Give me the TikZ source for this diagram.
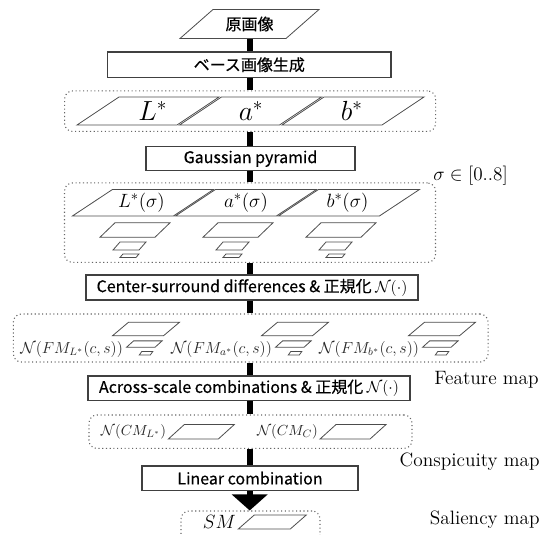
\documentclass[tikz,border=0pt]{standalone}
\usepackage{fontspec}
\newfontfamily\jp{Noto Sans CJK JP}[FakeBold=0.4]
\usetikzlibrary{arrows.meta}
\newcommand\pgram[5]{%
  \draw[pg] ({#1-#3/2-#5/2},{#2+#4/2}) -- ({#1+#3/2-#5/2},{#2+#4/2}) --
            ({#1+#3/2+#5/2},{#2-#4/2}) -- ({#1-#3/2+#5/2},{#2-#4/2}) -- cycle;}
\begin{document}
\begin{tikzpicture}[x=0.75pt,y=-0.75pt,
  box/.style={draw=black!75, line width=1.1pt, fill=white, inner sep=0pt,
              font=\jp\fontsize{12}{14}\selectfont},
  grp/.style={draw=black!60, dotted, line width=0.8pt, rounded corners=6pt, inner sep=0pt},
  pg/.style={draw=black!70, line width=0.6pt},
  bar/.style={line width=4.5pt, black},
  lbl/.style={font=\fontsize{14.5}{16}\selectfont, anchor=east, inner sep=0pt},
  fmlbl/.style={font=\fontsize{11.6}{13}\selectfont, anchor=east, inner sep=0pt, text=black!85},
  cmlbl/.style={font=\fontsize{10.8}{12}\selectfont, anchor=east, inner sep=0pt, text=black!85},
  txt/.style={inner sep=0pt}]
\useasboundingbox (0,0) rectangle (547,535);
\clip (0,0) rectangle (547,535);
\coordinate (spine) at (249.7,0);

% groups
\node[grp, minimum width=278.25pt, minimum height=30.4pt] (g1) at (250.1,111.2) {};
\node[grp, minimum width=278.25pt, minimum height=59.6pt] (g2) at (250,222.7) {};
\node[grp, minimum width=356pt, minimum height=36pt] (g3) at (250.7,338) {};
\node[grp, minimum width=242.25pt, minimum height=25.1pt] (g4) at (250.5,431.7) {};
\node[grp, minimum width=104.25pt, minimum height=25.5pt] (g5) at (250.5,528) {};

% original image
\node[txt, minimum width=79.5pt, minimum height=21.75pt, font=\jp\fontsize{12}{14}\selectfont] (orig) at (249.5,24) {原画像};
\pgram{249.5}{24}{106}{29}{33}

% boxes
\node[box, minimum width=212.6pt, minimum height=19.1pt] (base) at (249.3,64.7) {ベース画像生成};
\node[box, minimum width=156.75pt, minimum height=18pt] (gauss) at (250.5,158.6) {Gaussian pyramid};
\node[box, minimum width=249pt, minimum height=18.75pt] (cs) at (252,287.5) {Center-surround differences \& 正規化 $\mathcal{N}(\cdot)$};
\node[box, minimum width=241.5pt, minimum height=18.4pt] (across) at (249,388.2) {Across-scale combinations \& 正規化 $\mathcal{N}(\cdot)$};
\node[box, minimum width=162pt, minimum height=18.4pt] (lin) at (250,478.2) {Linear combination};

% connectors
\draw[bar] (spine |- orig.south) -- (spine |- base.north);
\draw[bar] (spine |- base.south) -- (spine |- g1.north);
\draw[bar] (spine |- g1.south) -- (spine |- gauss.north);
\draw[bar] (spine |- gauss.south) -- (spine |- g2.north);
\draw[bar] (spine |- g2.south) -- (spine |- cs.north);
\draw[bar] (spine |- cs.south) -- (spine |- g3.north);
\draw[bar] (spine |- g3.south) -- (spine |- across.north);
\draw[bar] (spine |- across.south) -- (spine |- g4.north);
\draw[bar] (spine |- g4.south) -- (spine |- lin.north);
\draw[bar, -{Triangle[width=26.25pt,length=12pt]}] (spine |- lin.south) -- (spine |- g5.north);

% L* a* b*
\pgram{148}{111}{100}{28}{42}
\pgram{250.5}{111}{100}{28}{42}
\pgram{353}{111}{100}{28}{42}
\node[txt, font=\fontsize{22}{24}\selectfont] (lab1) at (152.8,111) {$L^*$};
\node[txt, font=\fontsize{22}{24}\selectfont] (lab2) at (251,111) {$a^*$};
\node[txt, font=\fontsize{22}{24}\selectfont] (lab3) at (351.7,111) {$b^*$};

% pyramid
\node[anchor=west, inner sep=0pt, font=\fontsize{14.5}{16}\selectfont] (sig) at (433,176) {$\sigma \in [0..8]$};
\foreach \cx in {143,246,349}{
  \pgram{\cx}{202.7}{101}{26.5}{40}
  \pgram{\cx-8}{230}{55}{14.5}{15}
  \pgram{\cx-13.5}{246}{26}{8}{7}
  \pgram{\cx-13.5}{255.7}{16}{3.5}{3}
}
\node[txt, font=\fontsize{15.5}{17}\selectfont] (ps1) at (141.4,203) {$L^*(\sigma)$};
\node[txt, font=\fontsize{15.5}{17}\selectfont] (ps2) at (246,203) {$a^*(\sigma)$};
\node[txt, font=\fontsize{15.5}{17}\selectfont] (ps3) at (347.5,203) {$b^*(\sigma)$};

% feature maps
\foreach \cx in {146,295,442}{
  \pgram{\cx}{329}{51}{13.5}{16}
  \pgram{\cx-1.6}{344}{28.5}{6.3}{7}
  \pgram{\cx}{353.3}{11}{3.5}{2.5}
}
\node[fmlbl] (fm1) at (123.2,349) {$\mathcal{N}(FM_{L^*}(c,s))$};
\node[fmlbl] (fm2) at (272.2,349) {$\mathcal{N}(FM_{a^*}(c,s))$};
\node[fmlbl] (fm3) at (419.2,349) {$\mathcal{N}(FM_{b^*}(c,s))$};
\node[lbl] (fmap) at (539,380) {Feature map};

% conspicuity maps
\pgram{201.3}{431.8}{50}{14.5}{16}
\pgram{353}{431.8}{50}{14.5}{16}
\node[cmlbl] (cm1) at (166.3,431.7) {$\mathcal{N}(CM_{L^*})$};
\node[cmlbl] (cm2) at (318,431.7) {$\mathcal{N}(CM_{C})$};
\node[lbl] (cmap) at (540,461.7) {Conspicuity map};

% saliency map
\pgram{272.3}{522}{52}{14}{16}
\node[lbl] (sm) at (236,521.7) {$SM$};
\node[lbl] (smap) at (540,520) {Saliency map};
\end{tikzpicture}
\end{document}
